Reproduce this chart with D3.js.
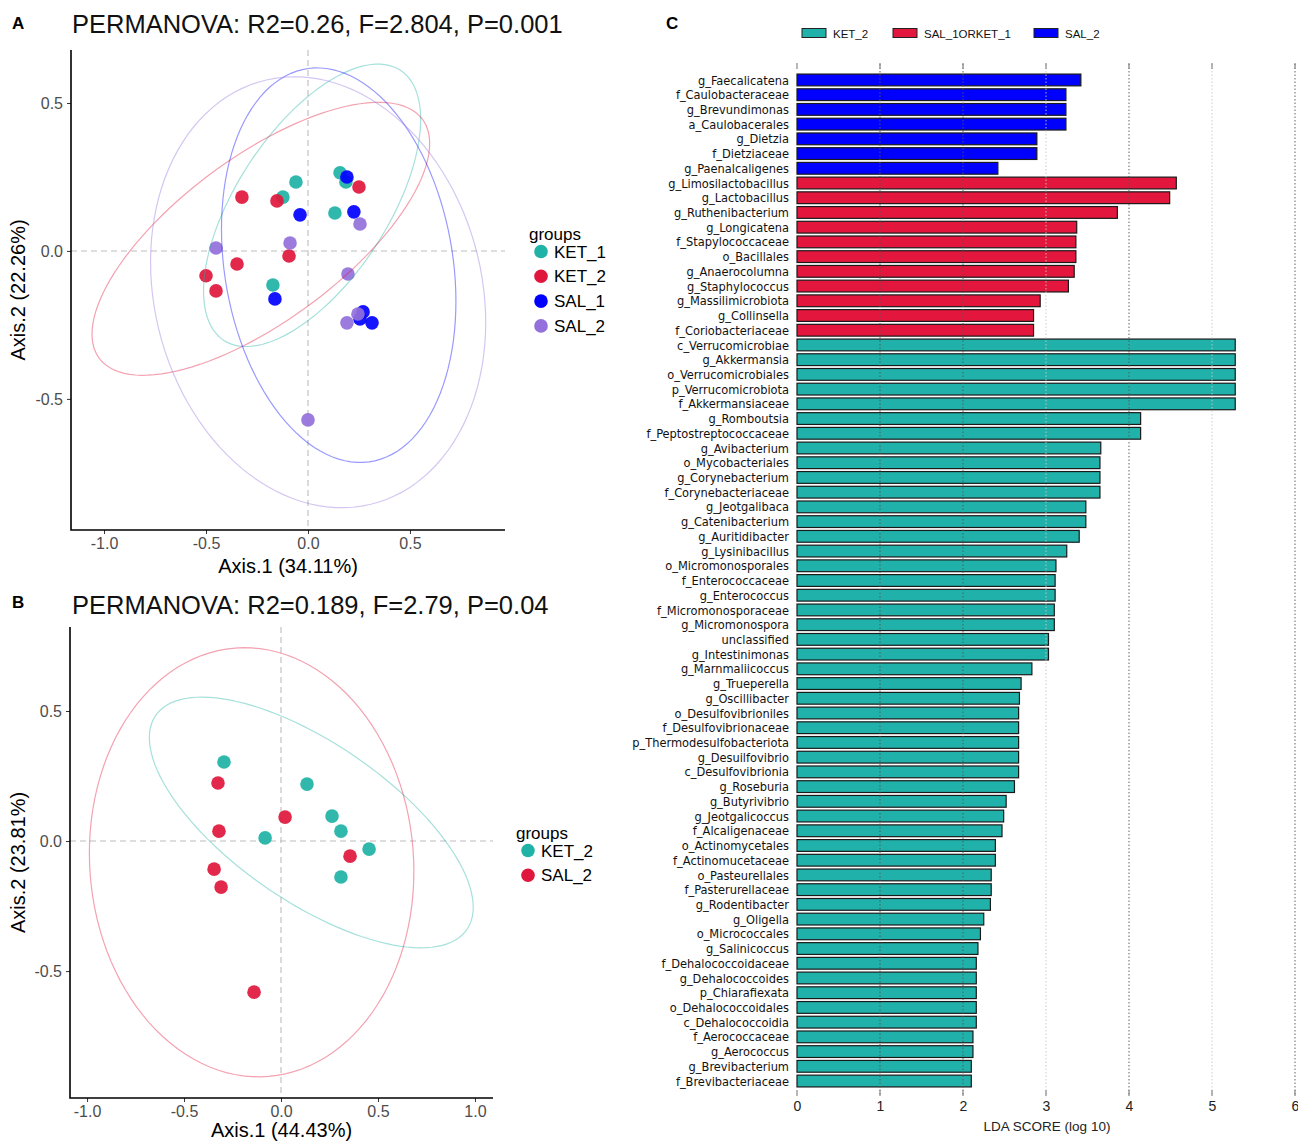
<!DOCTYPE html>
<html><head><meta charset="utf-8">
<script src="https://cdn.jsdelivr.net/npm/d3@7"></script>
<style>body{margin:0;background:#fff;} svg{display:block;font-family:"Liberation Sans",Arial,Helvetica,sans-serif;}</style>
</head><body><svg id="c" width="1298" height="1143"></svg>
<script>
// ---------- Panel A data (PCoA, 4 groups) ----------
const groupsA = ["KET_1", "KET_2", "SAL_1", "SAL_2"];
const colorsA = ["#20b2a6", "#e0173c", "#0000ff", "#9370db"];
const ptsA_KET_1 = [[0.157,0.264],[0.186,0.233],[-0.059,0.233],[-0.123,0.182],[0.132,0.128],[-0.172,-0.115]];
const ptsA_KET_2 = [[0.250,0.216],[-0.324,0.182],[-0.152,0.169],[-0.348,-0.044],[-0.500,-0.084],[-0.451,-0.135],[-0.093,-0.017]];
const ptsA_SAL_1 = [[0.191,0.250],[-0.039,0.122],[0.225,0.132],[-0.162,-0.162],[0.270,-0.206],[0.255,-0.230],[0.314,-0.243]];
const ptsA_SAL_2 = [[-0.451,0.010],[-0.088,0.027],[0.255,0.091],[0.196,-0.078],[0.191,-0.243],[0.245,-0.213],[0.000,-0.571]];
const xTicksA = [-1.0, -0.5, 0.0, 0.5];
const yTicksA = [-0.5, 0.0, 0.5];
const titleA = "PERMANOVA: R2=0.26, F=2.804, P=0.001";
const xLabelA = "Axis.1 (34.11%)";
const yLabelA = "Axis.2 (22.26%)";

// ---------- Panel B data ----------
const groupsB = ["KET_2", "SAL_2"];
const colorsB = ["#20b2a6", "#e0173c"];
const ptsB_KET_2 = [[-0.294,0.304],[0.134,0.219],[0.263,0.096],[0.309,0.038],[-0.082,0.012],[0.454,-0.031],[0.309,-0.138]];
const ptsB_SAL_2 = [[-0.325,0.223],[-0.320,0.038],[0.021,0.092],[-0.345,-0.108],[-0.309,-0.177],[0.356,-0.058],[-0.139,-0.581]];
const xTicksB = [-1.0, -0.5, 0.0, 0.5, 1.0];
const yTicksB = [-0.5, 0.0, 0.5];
const titleB = "PERMANOVA: R2=0.189, F=2.79, P=0.04";
const xLabelB = "Axis.1 (44.43%)";
const yLabelB = "Axis.2 (23.81%)";

// ---------- Panel C data (LEfSe LDA) ----------
const classesC = ["KET_2", "SAL_1ORKET_1", "SAL_2"];
const colorsC = ["#20b2aa", "#e3173d", "#0000ff"];
const taxaC = ["g_Faecalicatena","f_Caulobacteraceae","g_Brevundimonas","a_Caulobacerales","g_Dietzia","f_Dietziaceae","g_Paenalcaligenes",
"g_Limosilactobacillus","g_Lactobacillus","g_Ruthenibacterium","g_Longicatena","f_Stapylococcaceae","o_Bacillales","g_Anaerocolumna","g_Staphylococcus","g_Massilimicrobiota","g_Collinsella","f_Coriobacteriaceae",
"c_Verrucomicrobiae","g_Akkermansia","o_Verrucomicrobiales","p_Verrucomicrobiota","f_Akkermansiaceae","g_Romboutsia","f_Peptostreptococcaceae","g_Avibacterium","o_Mycobacteriales","g_Corynebacterium","f_Corynebacteriaceae","g_Jeotgalibaca","g_Catenibacterium","g_Auritidibacter","g_Lysinibacillus","o_Micromonosporales","f_Enterococcaceae","g_Enterococcus","f_Micromonosporaceae","g_Micromonospora","unclassified","g_Intestinimonas","g_Marnmaliicoccus","g_Trueperella","g_Oscillibacter","o_Desulfovibrioniles","f_Desulfovibrionaceae","p_Thermodesulfobacteriota","g_Desuilfovibrio","c_Desulfovibrionia","g_Roseburia","g_Butyrivibrio","g_Jeotgalicoccus","f_Alcaligenaceae","o_Actinomycetales","f_Actinomucetaceae","o_Pasteurellales","f_Pasterurellaceae","g_Rodentibacter","g_Oligella","o_Micrococcales","g_Salinicoccus","f_Dehalococcoidaceae","g_Dehalococcoides","p_Chiarafiexata","o_Dehalococcoidales","c_Dehalococcoidia","f_Aerococcaceae","g_Aerococcus","g_Brevibacterium","f_Brevibacteriaceae"];
const ldaC = [3.42,3.24,3.24,3.24,2.89,2.89,2.42,
4.57,4.49,3.86,3.37,3.36,3.36,3.34,3.27,2.93,2.85,2.85,
5.28,5.28,5.28,5.28,5.28,4.14,4.14,3.66,3.65,3.65,3.65,3.48,3.48,3.40,3.25,3.12,3.11,3.11,3.10,3.10,3.03,3.03,2.83,2.70,2.68,2.67,2.67,2.67,2.67,2.67,2.62,2.52,2.49,2.47,2.39,2.39,2.34,2.34,2.33,2.25,2.21,2.18,2.16,2.16,2.16,2.16,2.16,2.12,2.12,2.10,2.10];
const classOfC = [2,2,2,2,2,2,2, 1,1,1,1,1,1,1,1,1,1,1,
0,0,0,0,0,0,0,0,0,0,0,0,0,0,0,0,0,0,0,0,0,0,0,0,0,0,0,0,0,0,0,0,0,0,0,0,0,0,0,0,0,0,0,0,0,0,0,0,0,0,0];
const xTicksC = [0,1,2,3,4,5,6];

// ---------- helpers ----------
const svg = d3.select("#c");
const fmt = d => d.toFixed(1);

// ggplot2 stat_ellipse(type="norm", level=0.95)
function normEllipse(pts, level = 0.95, segments = 120) {
  const n = pts.length;
  const mx = d3.mean(pts, d => d[0]), my = d3.mean(pts, d => d[1]);
  let a = 0, b = 0, c = 0;
  pts.forEach(d => { const dx = d[0] - mx, dy = d[1] - my; a += dx * dx; b += dx * dy; c += dy * dy; });
  a /= (n - 1); b /= (n - 1); c /= (n - 1);
  const r11 = Math.sqrt(a), r12 = b / r11, r22 = Math.sqrt(Math.max(c - r12 * r12, 0));
  const dfd = n - 1;
  const qf = (dfd / 2) * (Math.pow(1 - level, -2 / dfd) - 1);
  const radius = Math.sqrt(2 * qf);
  return d3.range(segments + 1).map(k => {
    const t = 2 * Math.PI * k / segments, u = Math.cos(t), v = Math.sin(t);
    return [mx + radius * u * r11, my + radius * (u * r12 + v * r22)];
  });
}

function scatterPanel(cfg) {
  const {x, y, groups, colors, series, xTicks, yTicks, title, xLabel, yLabel, letter, letterY, titleY, xLabelY, legend} = cfg;
  const g = svg.append("g");
  const [x0, x1] = x.range(), [y0, y1] = y.range();
  g.append("text").attr("x", 12).attr("y", letterY).attr("font-weight", "bold").attr("font-size", 17).text(letter);
  g.append("text").attr("x", 72).attr("y", titleY).attr("font-size", 25.5).attr("fill", "#111").text(title);
  g.append("line").attr("x1", x(0)).attr("x2", x(0)).attr("y1", y1).attr("y2", y0)
    .attr("stroke", "#bdbdbd").attr("stroke-dasharray", "6,4").attr("stroke-width", 1.1);
  g.append("line").attr("x1", x0).attr("x2", x1).attr("y1", y(0)).attr("y2", y(0))
    .attr("stroke", "#bdbdbd").attr("stroke-dasharray", "6,4").attr("stroke-width", 1.1);
  series.forEach((pts, gi) => {
    g.append("g").selectAll("circle").data(pts).join("circle")
      .attr("cx", d => x(d[0])).attr("cy", d => y(d[1])).attr("r", 6.8)
      .attr("fill", colors[gi]).attr("fill-opacity", 0.92);
  });
  const line = d3.line().x(d => x(d[0])).y(d => y(d[1]));
  series.forEach((pts, gi) => {
    g.append("path").attr("d", line(normEllipse(pts))).attr("fill", "none")
      .attr("stroke", colors[gi]).attr("stroke-opacity", 0.4).attr("stroke-width", 1.2);
  });
  const ax = g.append("g").attr("transform", `translate(0,${y0})`)
    .call(d3.axisBottom(x).tickValues(xTicks).tickFormat(fmt).tickSize(4).tickPadding(4));
  const ay = g.append("g").attr("transform", `translate(${x0},0)`)
    .call(d3.axisLeft(y).tickValues(yTicks).tickFormat(fmt).tickSize(4).tickPadding(4));
  [ax, ay].forEach(a => {
    a.select(".domain").remove();
    a.selectAll(".tick line").attr("stroke", "#333");
    a.selectAll(".tick text").attr("font-size", 16).attr("fill", "#4d4d4d").attr("font-family", "Liberation Sans, Arial, sans-serif");
  });
  g.append("path").attr("d", `M${x0},${y1}V${y0}H${x1}`).attr("fill", "none").attr("stroke", "#000").attr("stroke-width", 1.6);
  g.append("text").attr("x", (x0 + x1) / 2).attr("y", xLabelY).attr("text-anchor", "middle").attr("font-size", 20).text(xLabel);
  g.append("text").attr("transform", `translate(25,${(y0 + y1) / 2}) rotate(-90)`).attr("text-anchor", "middle").attr("font-size", 20).text(yLabel);
  const lg = g.append("g");
  lg.append("text").attr("x", legend.x).attr("y", legend.y).attr("font-size", 17).text("groups");
  groups.forEach((name, i) => {
    const cy = legend.y + 11.5 + i * 24.8;
    lg.append("circle").attr("cx", legend.x + 12).attr("cy", cy).attr("r", 6.8).attr("fill", colors[i]);
    lg.append("text").attr("x", legend.x + 25).attr("y", cy + 6).attr("font-size", 17).text(name);
  });
}

scatterPanel({
  x: d3.scaleLinear().domain([-1.162, 0.966]).range([71, 505]),
  y: d3.scaleLinear().domain([-0.943, 0.679]).range([530, 50]),
  groups: groupsA, colors: colorsA,
  series: [ptsA_KET_1, ptsA_KET_2, ptsA_SAL_1, ptsA_SAL_2],
  xTicks: xTicksA, yTicks: yTicksA, title: titleA, xLabel: xLabelA, yLabel: yLabelA,
  letter: "A", letterY: 29, titleY: 33, xLabelY: 573, legend: {x: 529, y: 240}
});

scatterPanel({
  x: d3.scaleLinear().domain([-1.088, 1.093]).range([70, 493]),
  y: d3.scaleLinear().domain([-0.988, 0.823]).range([1098, 627]),
  groups: groupsB, colors: colorsB,
  series: [ptsB_KET_2, ptsB_SAL_2],
  xTicks: xTicksB, yTicks: yTicksB, title: titleB, xLabel: xLabelB, yLabel: yLabelB,
  letter: "B", letterY: 608, titleY: 614, xLabelY: 1137, legend: {x: 516, y: 839}
});

(function () {
  const g = svg.append("g");
  const x = d3.scaleLinear().domain([0, 6]).range([797, 1295]);
  const y = d3.scaleBand().domain(taxaC).range([72.6, 1088.4]).paddingInner(0.2).paddingOuter(0.1);
  g.append("text").attr("x", 666).attr("y", 29).attr("font-weight", "bold").attr("font-size", 17).text("C");
  const legX = [802, 893, 1034];
  classesC.forEach((c, i) => {
    g.append("rect").attr("x", legX[i]).attr("y", 28.5).attr("width", 24).attr("height", 9)
      .attr("fill", colorsC[i]).attr("stroke", "#222").attr("stroke-width", 1);
    g.append("text").attr("x", legX[i] + 31).attr("y", 37.5).attr("font-size", 11.5).attr("fill", "#111").text(c);
  });
  const data = taxaC.map((t, i) => ({t, v: ldaC[i], c: classOfC[i]}));
  g.append("g").selectAll("rect").data(data).join("rect")
    .attr("x", x(0)).attr("y", d => y(d.t)).attr("width", d => x(d.v) - x(0)).attr("height", y.bandwidth())
    .attr("fill", d => colorsC[d.c]).attr("stroke", "#1a1a1a").attr("stroke-width", 1.2);
  g.append("g").selectAll("line").data(xTicksC).join("line")
    .attr("x1", d => x(d)).attr("x2", d => x(d)).attr("y1", 64).attr("y2", 1096)
    .attr("stroke", d => (d === 3 || d === 5 || d === 0) ? "#c8c8c8" : "#555")
    .attr("stroke-opacity", d => d === 0 ? 0 : 0.9)
    .attr("stroke-dasharray", "1.5,2").attr("stroke-width", 1);
  xTicksC.forEach(d => {
    g.append("line").attr("x1", x(d)).attr("x2", x(d)).attr("y1", 1090).attr("y2", 1096).attr("stroke", "#888").attr("stroke-width", 1.2);
    g.append("line").attr("x1", x(d)).attr("x2", x(d)).attr("y1", 63).attr("y2", 69).attr("stroke", "#888").attr("stroke-width", 1.2);
  });
  g.append("g").selectAll("text").data(data).join("text")
    .attr("x", 789).attr("y", d => y(d.t) + y.bandwidth() / 2).attr("dy", "0.36em")
    .attr("text-anchor", "end").attr("font-size", 12.7)
    .attr("font-family", "'Liberation Sans Narrow','DejaVu Sans Condensed',sans-serif")
    .attr("fill", "#111").text(d => d.t);
  const ax = g.append("g").attr("transform", "translate(0,1096)")
    .call(d3.axisBottom(x).tickValues(xTicksC).tickFormat(d3.format("d")).tickSize(0).tickPadding(5));
  ax.select(".domain").remove();
  ax.selectAll(".tick text").attr("font-size", 14).attr("fill", "#222").attr("font-family", "Liberation Sans, Arial, sans-serif");
  g.append("text").attr("x", 1047).attr("y", 1131).attr("text-anchor", "middle").attr("font-size", 13.5).attr("fill", "#222").text("LDA SCORE (log 10)");
})();
</script></body></html>
